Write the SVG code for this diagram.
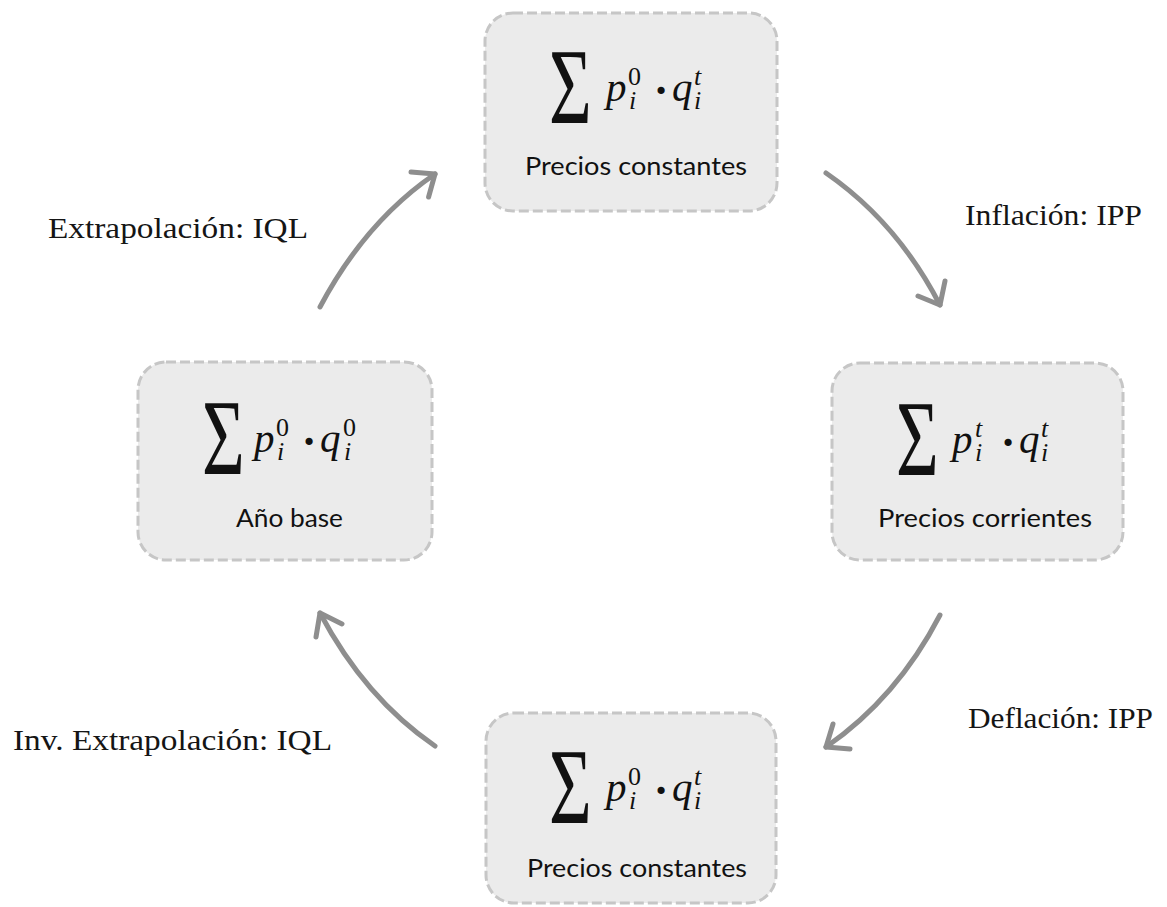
<svg xmlns="http://www.w3.org/2000/svg" width="1167" height="907" viewBox="0 0 1167 907">
<style>
.box{fill:#ebebeb;stroke:#c6c6c6;stroke-width:3;stroke-dasharray:10 4}
.sig{font-family:"Liberation Serif","DejaVu Serif",serif;font-size:108px;fill:#111}
.m{font-family:"Liberation Serif","DejaVu Serif",serif;font-style:italic;font-size:41px;fill:#111}
.s{font-family:"Liberation Serif","DejaVu Serif",serif;font-style:italic;font-size:26px;fill:#111}
.n{font-family:"Liberation Serif","DejaVu Serif",serif;font-size:26px;fill:#111}
.dot{font-family:"Liberation Serif","DejaVu Serif",serif;font-size:44px;font-weight:bold;fill:#111}
.lbl{font-family:Lato,"Liberation Sans",sans-serif;font-size:25px;fill:#111}
.edge{font-family:"Liberation Serif","Times New Roman",serif;font-size:30px;fill:#151515}
.arr{fill:none;stroke:#8e8e8e;stroke-width:5;stroke-linecap:round;stroke-linejoin:round}
</style>
<g id="node-top" transform="translate(485,13)">
<rect class="box" x="0" y="0" width="292" height="198" rx="28"/>
<text class="sig" transform="translate(64,110) scale(0.68,1)">Σ</text>
<text class="m" x="121" y="88">p</text>
<text class="n" x="143" y="72">0</text>
<text class="s" x="144" y="96">i</text>
<text class="dot" x="176" y="92" text-anchor="middle">·</text>
<text class="m" x="187" y="88">q</text>
<text class="s" x="209" y="72">t</text>
<text class="s" x="209" y="96">i</text>
<text class="lbl" x="40" y="162" textLength="222" lengthAdjust="spacingAndGlyphs">Precios constantes</text>
</g>
<g id="node-right" transform="translate(832,363)">
<rect class="box" x="0" y="0" width="291" height="197" rx="28"/>
<text class="sig" transform="translate(64,112) scale(0.68,1)">Σ</text>
<text class="m" x="120" y="90">p</text>
<text class="s" x="143" y="74">t</text>
<text class="s" x="143" y="98">i</text>
<text class="dot" x="176" y="94" text-anchor="middle">·</text>
<text class="m" x="187" y="90">q</text>
<text class="s" x="209" y="74">t</text>
<text class="s" x="209" y="98">i</text>
<text class="lbl" x="46" y="164" textLength="214" lengthAdjust="spacingAndGlyphs">Precios corrientes</text>
</g>
<g id="node-left" transform="translate(138,362)">
<rect class="box" x="0" y="0" width="294" height="198" rx="28"/>
<text class="sig" transform="translate(64,112) scale(0.68,1)">Σ</text>
<text class="m" x="116" y="90">p</text>
<text class="n" x="138" y="74">0</text>
<text class="s" x="139" y="98">i</text>
<text class="dot" x="171" y="94" text-anchor="middle">·</text>
<text class="m" x="182" y="90">q</text>
<text class="n" x="205" y="74">0</text>
<text class="s" x="206" y="98">i</text>
<text class="lbl" x="98" y="165" textLength="107" lengthAdjust="spacingAndGlyphs">Año base</text>
</g>
<g id="node-bottom" transform="translate(486,713)">
<rect class="box" x="0" y="0" width="290" height="190" rx="28"/>
<text class="sig" transform="translate(63,110) scale(0.68,1)">Σ</text>
<text class="m" x="120" y="88">p</text>
<text class="n" x="142" y="72">0</text>
<text class="s" x="143" y="96">i</text>
<text class="dot" x="175" y="92" text-anchor="middle">·</text>
<text class="m" x="186" y="88">q</text>
<text class="s" x="208" y="72">t</text>
<text class="s" x="208" y="96">i</text>
<text class="lbl" x="41" y="164" textLength="220" lengthAdjust="spacingAndGlyphs">Precios constantes</text>
</g>
<g id="connectors">
<path class="arr" d="M320,307 Q365,222 435,174"/>
<path class="arr" d="M411,172 L435,174 L428.6,197"/>
<path class="arr" d="M826,173 Q897,222 940,305"/>
<path class="arr" d="M945,281 L940,305 L918,296"/>
<path class="arr" d="M940,615 Q897,698 826,747"/>
<path class="arr" d="M833,724 L826,747 L850,749"/>
<path class="arr" d="M435,746 Q365,698 320,613"/>
<path class="arr" d="M342,624 L320,613 L316,637"/>
</g>
<g id="edge-labels">
<text class="edge" x="48" y="238" textLength="260" lengthAdjust="spacingAndGlyphs">Extrapolación: IQL</text>
<text class="edge" x="965" y="225" textLength="177" lengthAdjust="spacingAndGlyphs">Inflación: IPP</text>
<text class="edge" x="968" y="728" textLength="185" lengthAdjust="spacingAndGlyphs">Deflación: IPP</text>
<text class="edge" x="13" y="750" textLength="319" lengthAdjust="spacingAndGlyphs">Inv. Extrapolación: IQL</text>
</g>
</svg>
